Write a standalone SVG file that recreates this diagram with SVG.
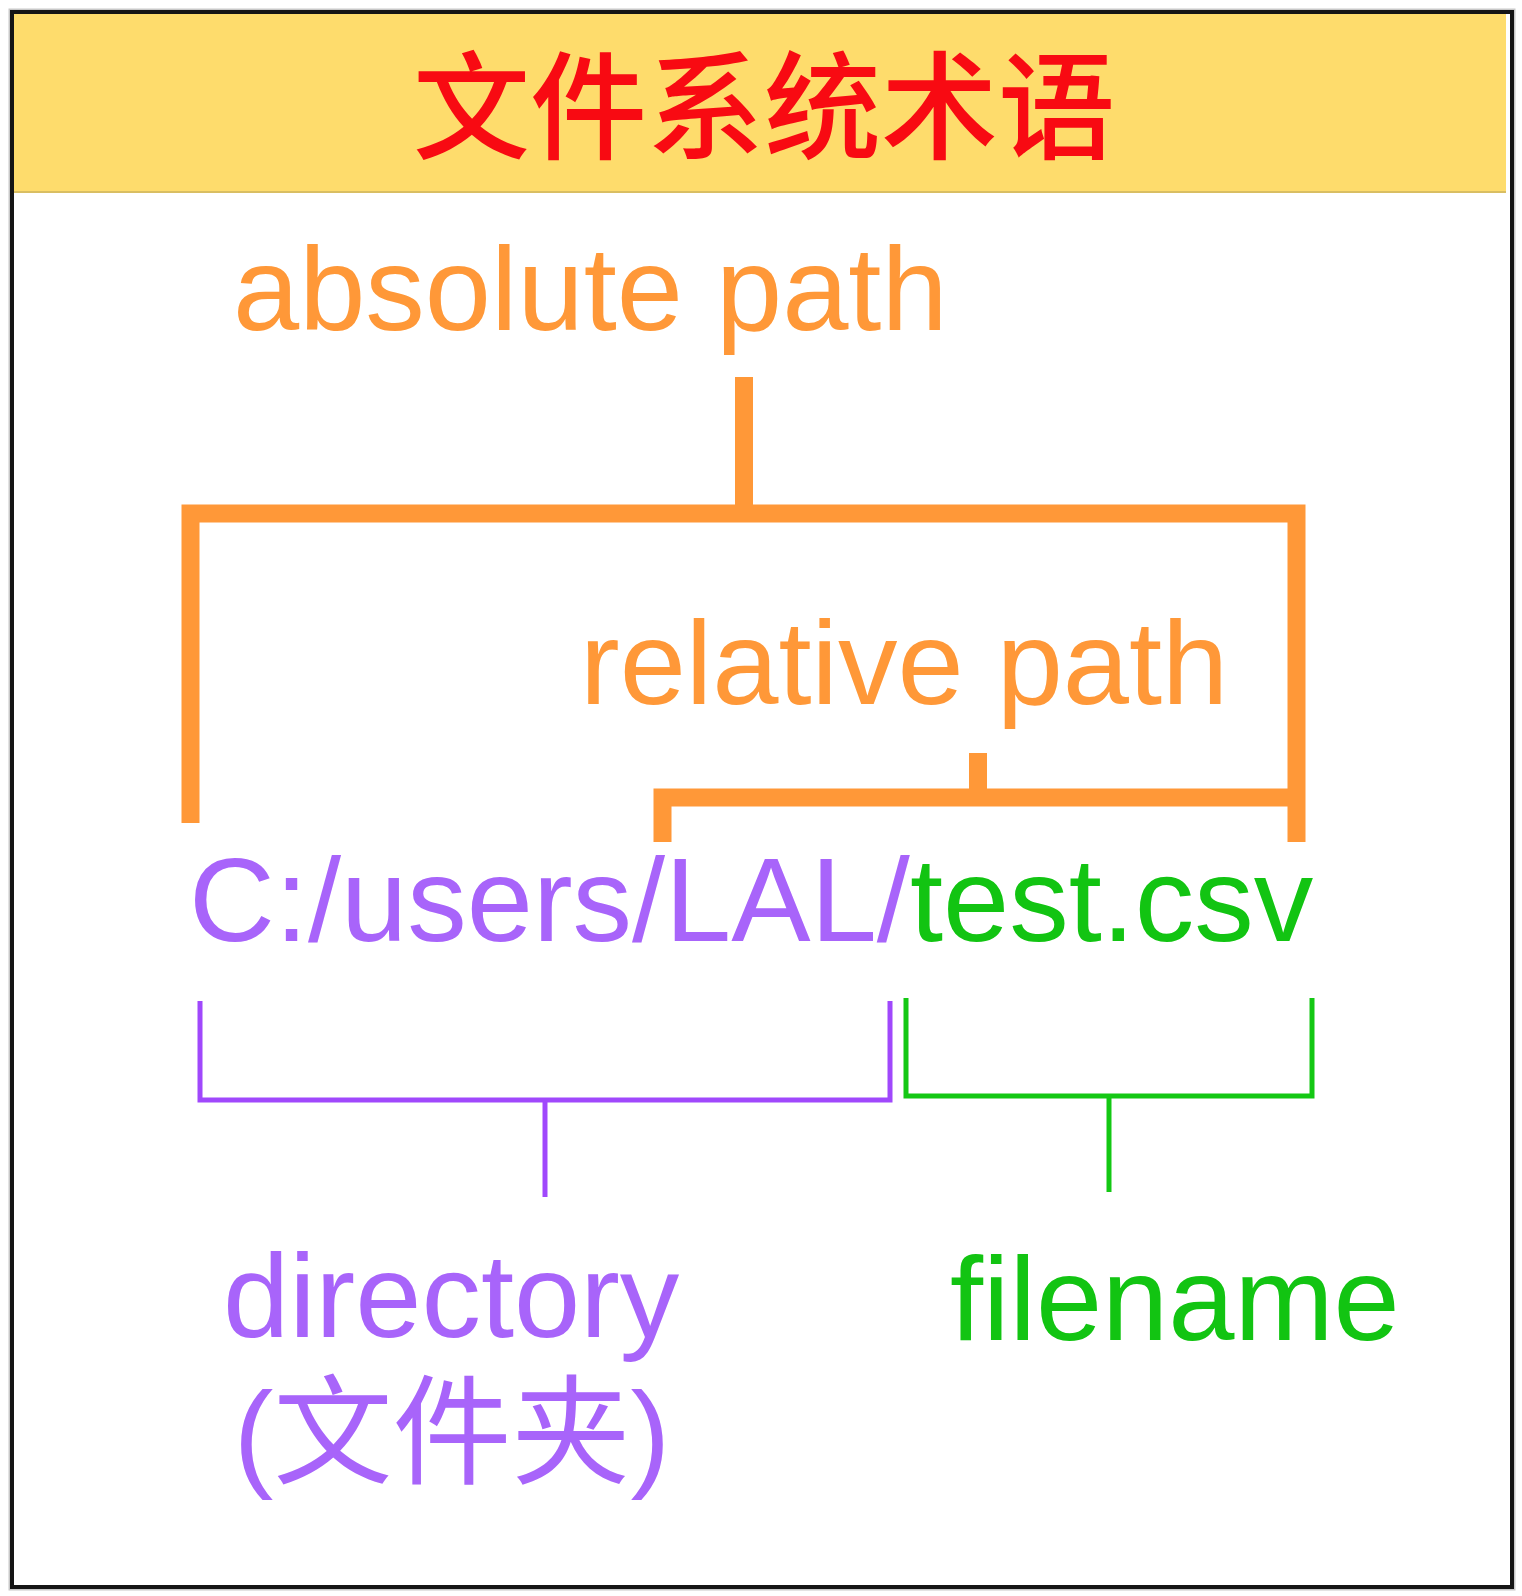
<svg xmlns="http://www.w3.org/2000/svg" width="1522" height="1596" viewBox="0 0 1522 1596">
  <style>
    .lbl { font-family: "Liberation Sans", Arial, "Noto Sans CJK SC", sans-serif; font-size: 119px; }
    .orange { fill: #FF9838; }
    .purple { fill: #A864FA; }
    .green { fill: #12C412; }
    .thick { fill: none; stroke: #FF9838; stroke-width: 18; stroke-linejoin: miter; stroke-linecap: butt; }
    .thinP { fill: none; stroke: #A048FC; stroke-width: 5; stroke-linecap: butt; }
    .thinG { fill: none; stroke: #14C814; stroke-width: 5; stroke-linecap: butt; }
  </style>
  <rect x="0" y="0" width="1522" height="1596" fill="#FFFFFF"/>
  <g id="frame">
    <rect x="12" y="12" width="1500" height="1575" fill="#FFFFFF" stroke="#C8C8C8" stroke-width="7"/>
    <rect x="12" y="12" width="1500" height="1575" fill="#FFFFFF" stroke="#151515" stroke-width="4"/>
    <rect x="14" y="14" width="1492" height="178" fill="#FEDC6C"/>
    <line x1="14" y1="192" x2="1506" y2="192" stroke="#D9BE62" stroke-width="2"/>
  </g>
  <g id="title">
    <text x="764" y="150" text-anchor="middle" font-family="'Noto Sans CJK SC', 'Noto Sans CJK TC', sans-serif" font-size="117" font-weight="500" fill="#F80A12">文件系统术语</text>
  </g>
  <g id="connectors">
    <path class="thick" d="M190.5,823 V513.5 H1296.5 V842"/>
    <path class="thick" d="M744,377 V513.5"/>
    <path class="thick" d="M662.5,842 V797.5 H1296.5"/>
    <path class="thick" d="M978,753 V797.5"/>
    <path class="thinP" d="M200,1001 V1100 H890 V1001"/>
    <path class="thinP" d="M545,1100 V1197" stroke="#B070FC"/>
    <path class="thinG" d="M906,998 V1096 H1312 V998"/>
    <path class="thinG" d="M1109,1096 V1192"/>
  </g>
  <g id="absolute-path">
    <text class="lbl orange" x="233" y="330">absolute path</text>
  </g>
  <g id="relative-path">
    <text class="lbl orange" x="580" y="704">relative path</text>
  </g>
  <g id="full-path">
    <text class="lbl" x="189" y="941"><tspan class="purple">C:/users/LAL/</tspan><tspan class="green">test.csv</tspan></text>
  </g>
  <g id="directory">
    <text class="lbl purple" x="223" y="1337">directory</text>
    <text class="lbl purple" x="452" y="1475" text-anchor="middle">(文件夹)</text>
  </g>
  <g id="filename">
    <text class="lbl green" x="950" y="1340">filename</text>
  </g>
</svg>
